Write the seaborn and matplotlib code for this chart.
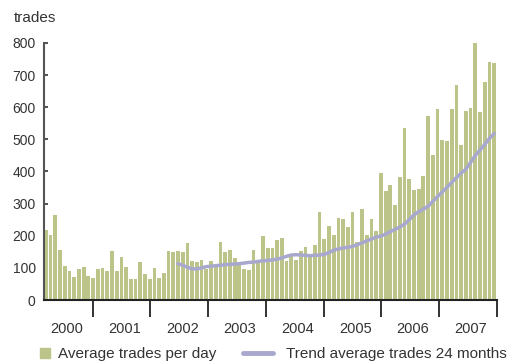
import numpy as np
import pandas as pd
import matplotlib
matplotlib.use("Agg")
import matplotlib.pyplot as plt
import seaborn as sns
from matplotlib.lines import Line2D

# Monthly average trades per day, Jan 2000 - Dec 2007
years = ["2000", "2001", "2002", "2003", "2004", "2005", "2006", "2007"]
trades_per_day = [
    219, 201, 266, 157, 107, 89, 71, 95, 104, 76, 67, 95,
    101, 89, 151, 89, 133, 104, 64, 64, 117, 82, 64, 101,
    70, 85, 154, 148, 154, 148, 176, 120, 117, 123, 95, 120,
    105, 181, 148, 157, 132, 115, 98, 92, 157, 117, 200, 163,
    163, 188, 194, 120, 138, 123, 154, 166, 138, 172, 275, 191,
    231, 203, 256, 253, 228, 275, 182, 284, 203, 253, 216, 396,
    340, 359, 297, 384, 536, 377, 343, 346, 385, 573, 452, 595,
    499, 495, 595, 669, 483, 589, 598, 800, 586, 679, 741, 738,
]
# 24-month trend, available from month index 28 onwards
trend_start = 28
trend_24m = [
    113, 108, 102, 97, 97, 100, 104, 105, 107, 108, 110, 111,
    112, 113, 115, 117, 118, 120, 122, 123, 125, 127, 131, 136,
    140, 141, 140, 139, 138, 139, 140, 142, 148, 155, 159, 162,
    164, 167, 172, 178, 184, 190, 196, 199, 205, 213, 220, 227,
    236, 250, 265, 275, 283, 292, 307, 322, 336, 351, 366, 381,
    395, 407, 428, 450, 467, 484, 503, 518,
]

BAR = "#bcc489"
TREND = "#a8a8cf"
TXT = "#333333"

sns.set_theme(style="white")
plt.rcParams["font.family"] = ["Liberation Sans", "DejaVu Sans"]

fig = plt.figure(figsize=(5.12, 3.64), dpi=100)
ax = fig.add_axes([44 / 512, 1 - 300 / 364, 453 / 512, 257 / 364])

bars = pd.DataFrame({"month": np.arange(len(trades_per_day)), "trades": trades_per_day})
sns.barplot(data=bars, x="month", y="trades", color=BAR, saturation=1,
            width=0.8, linewidth=0, ax=ax)

trend = pd.DataFrame({"month": np.arange(trend_start, trend_start + len(trend_24m)),
                      "trend": trend_24m})
sns.lineplot(data=trend, x="month", y="trend", color=TREND, lw=2.5,
             solid_capstyle="round", ax=ax)

n = len(trades_per_day)
ax.set_xlim(-0.4, n - 0.4)
ax.set_ylim(0, 800)
ax.set_xlabel("")
ax.set_ylabel("")

# year separators and centred year labels
edges = np.linspace(9.92, 95.53, len(years))
ax.set_xticks(edges)
ax.set_xticklabels([])
ax.set_xticks(edges - 5.5, minor=True)
ax.set_xticklabels(years, minor=True)
ax.tick_params(axis="x", which="major", direction="out", length=12, width=1.3,
               color="#222222", bottom=True)
ax.tick_params(axis="x", which="minor", length=0, pad=16, labelsize=10.5,
               labelcolor=TXT, bottom=True)

ax.set_yticks(np.arange(0, 801, 100))
ax.tick_params(axis="y", direction="in", length=3, width=1.3, color="#444444",
               left=True, pad=6, labelsize=10, labelcolor=TXT)

for s in ("top", "right"):
    ax.spines[s].set_visible(False)
ax.spines["left"].set_color("#555555")
ax.spines["left"].set_linewidth(1.5)
ax.spines["bottom"].set_color("#222222")
ax.spines["bottom"].set_linewidth(1.5)
ax.grid(False)

fig.text(14 / 512, 1 - 18 / 364, "trades", fontsize=11, color=TXT, va="center", ha="left")

h1 = Line2D([], [], marker="s", ls="", color=BAR, markersize=7.5)
h2 = Line2D([], [], color=TREND, lw=3.5)
leg1 = fig.legend([h1], ["Average trades per day"], loc="center left",
                  bbox_to_anchor=(39 / 512, 1 - 354 / 364), frameon=False,
                  fontsize=11, handlelength=0.8, handletextpad=0.45,
                  borderaxespad=0, borderpad=0, labelcolor=TXT)
leg2 = fig.legend([h2], ["Trend average trades 24 months"], loc="center left",
                  bbox_to_anchor=(243 / 512, 1 - 354 / 364), frameon=False,
                  fontsize=11, handlelength=1.95, handletextpad=0.85,
                  borderaxespad=0, borderpad=0, labelcolor=TXT)

fig.savefig("out.png", dpi=100)
